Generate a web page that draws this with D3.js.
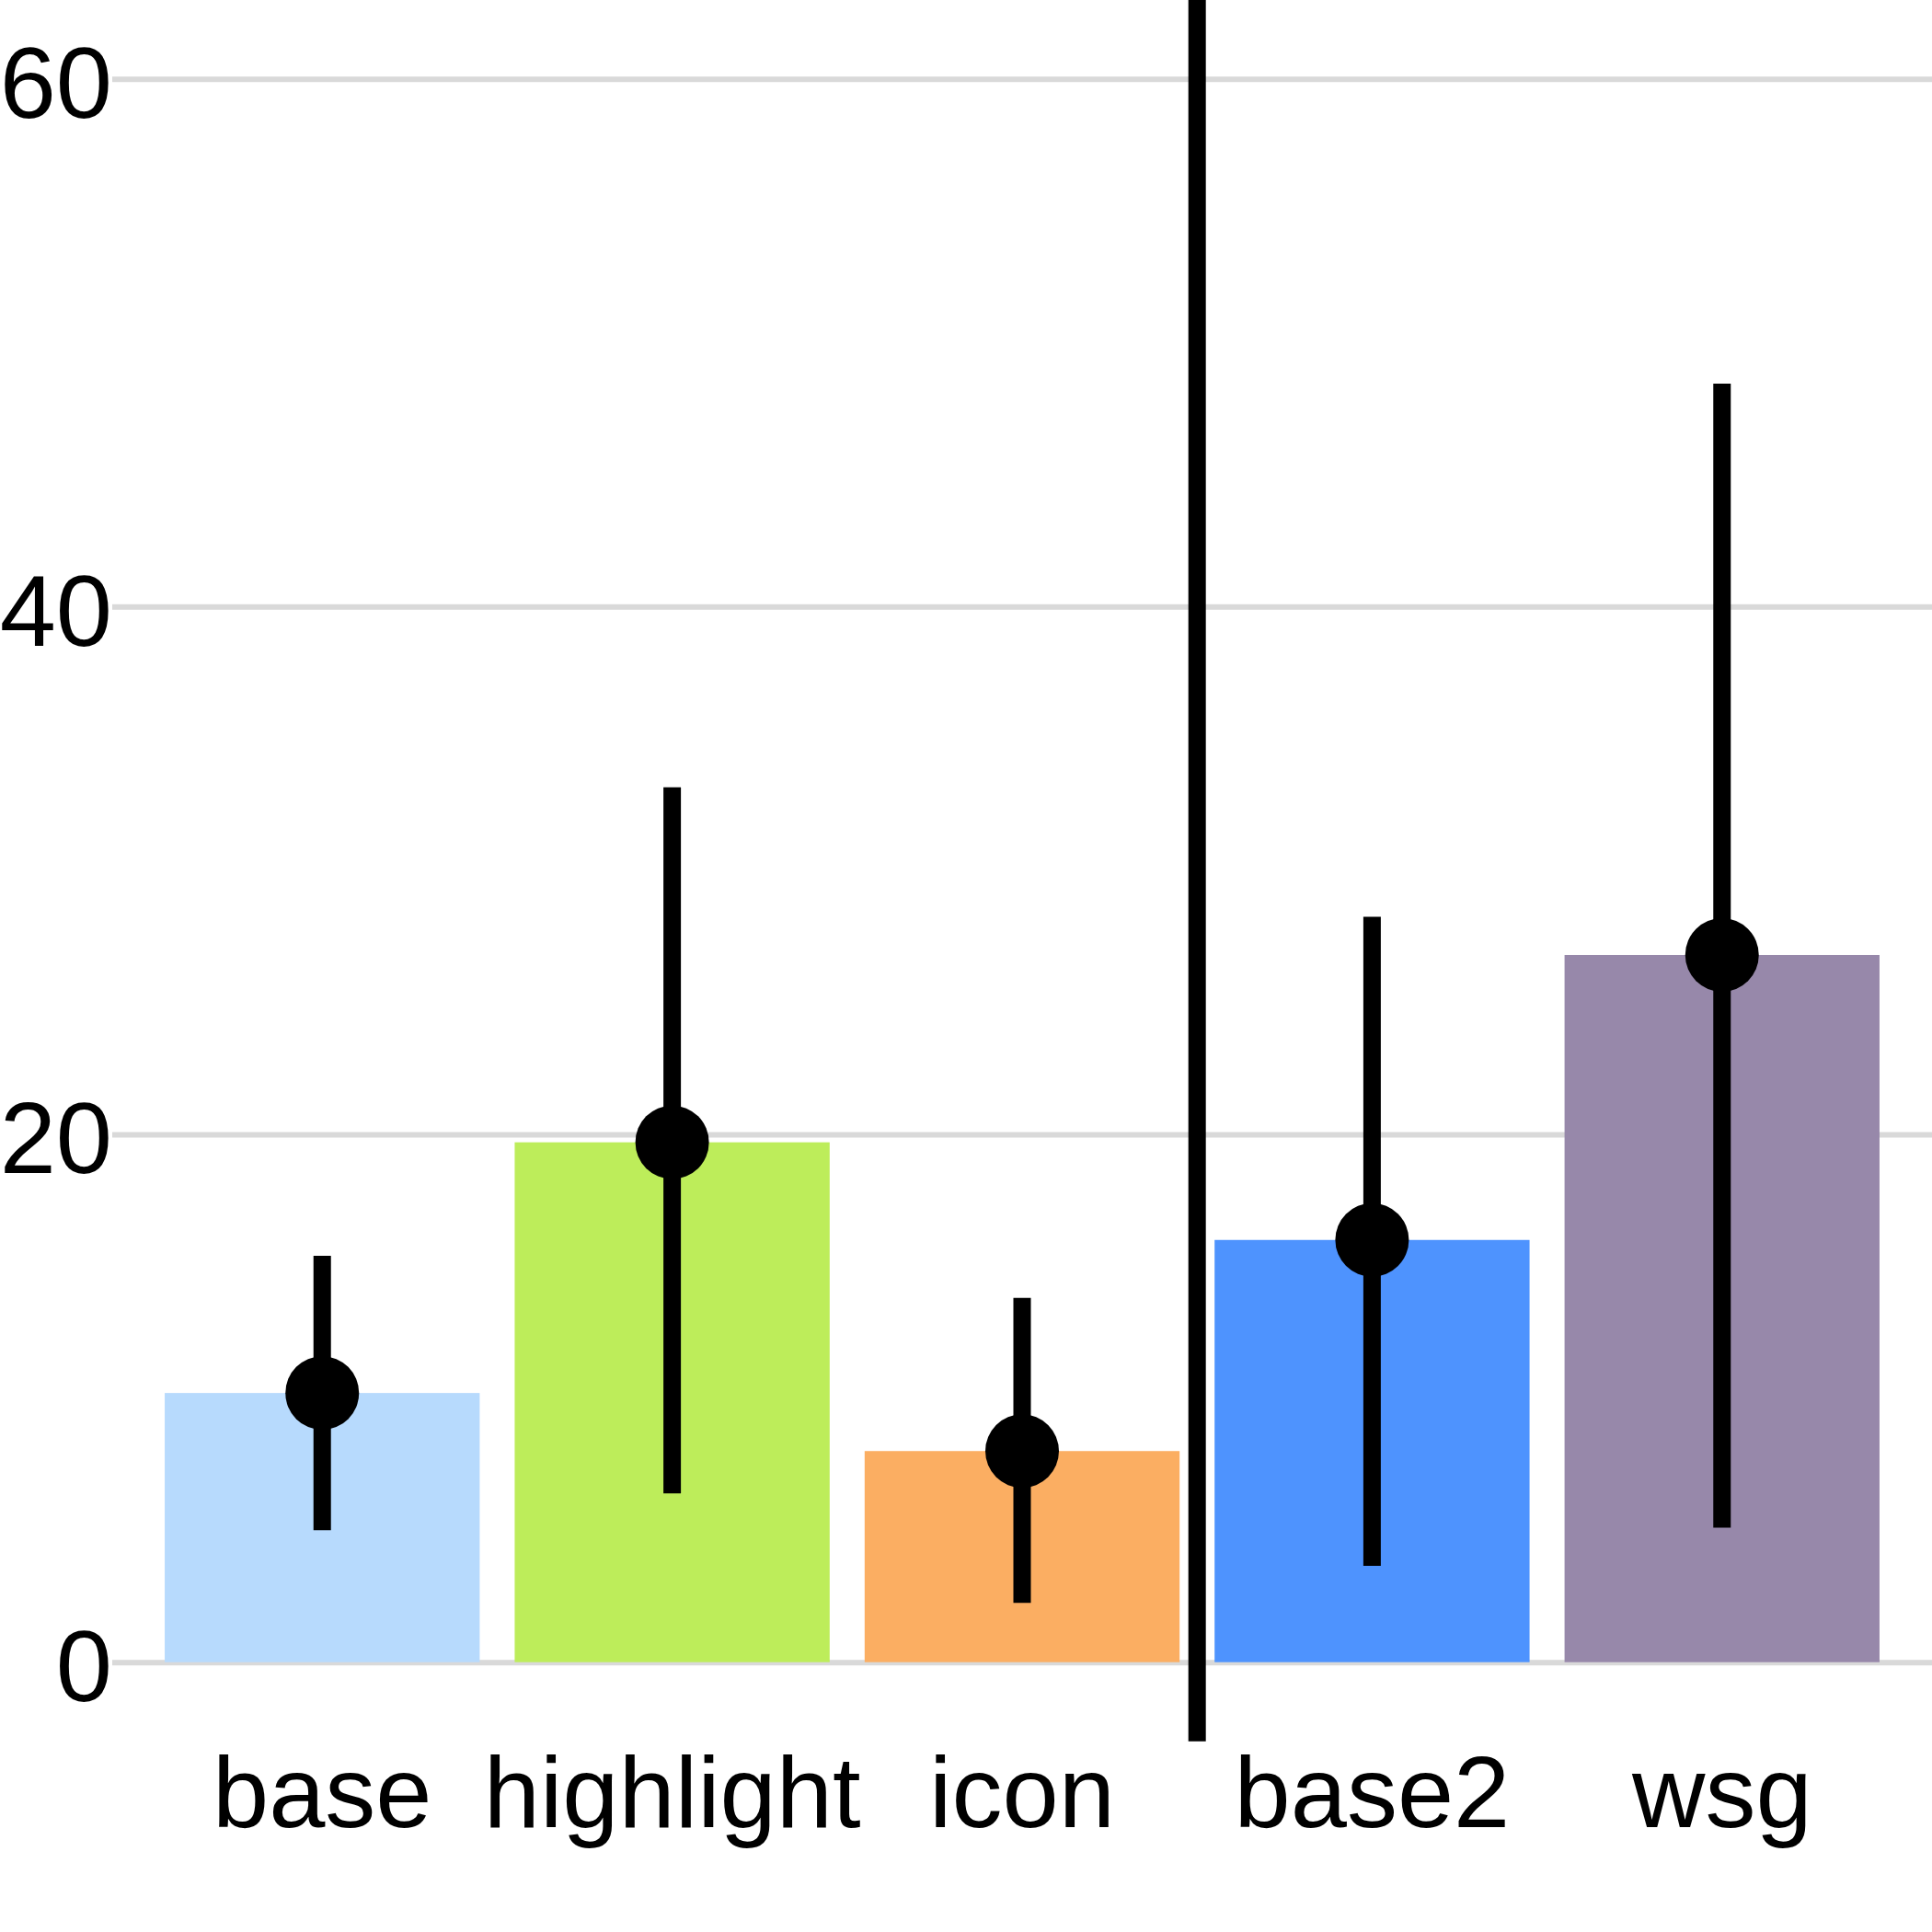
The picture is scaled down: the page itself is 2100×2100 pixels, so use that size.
<!DOCTYPE html>
<html>
<head>
<meta charset="utf-8">
<script src="https://cdn.jsdelivr.net/npm/d3@7"></script>
<style>
  html, body { margin: 0; padding: 0; background: #fff; }
  svg { display: block; }
  .axis text { font-family: "Liberation Sans", Arial, sans-serif; font-size: 110px; fill: #000; }
</style>
</head>
<body>
<svg id="chart"></svg>
<script>
// Data
var categories = ["base", "highlight", "icon", "base2", "wsg"];
var means = [10.2, 19.7, 8.0, 16.0, 26.8];
var upper = [15.4, 33.15, 13.8, 28.25, 48.45];
var lower = [5.0, 6.4, 2.25, 3.65, 5.1];
var colors = ["#b7dafd", "#bded5a", "#fbae62", "#4e93fe", "#9788aa"];
var yTicks = [0, 20, 40, 60];
// separator between "icon" and "base2", running from below zero to past the top
var sepRange = [-3, 70];

var W = 2100, H = 2100;
var left = 122;

var svg = d3.select('#chart')
	.attr('width', W)
	.attr('height', H);

// Scales
var x = d3.scaleBand()
	.domain(categories)
	.range([left, W])
	.paddingInner(0.1)
	.paddingOuter(0.15);

var y = d3.scaleLinear()
	.domain([0, 60])
	.range([1806.7, 85.7]);

// y axis with gridlines
var yAxis = svg.append('g')
	.attr('class', 'axis')
	.attr('transform', 'translate(' + left + ',0)')
	.call(d3.axisLeft(y).tickValues(yTicks).tickSize(-(W - left)).tickPadding(0));
yAxis.select('.domain').remove();
yAxis.selectAll('.tick line')
	.attr('stroke', '#d9d9d9')
	.attr('stroke-width', 6);
yAxis.selectAll('.tick text')
	.attr('dy', '0.38em');

// Bars
svg.selectAll('.bar')
	.data(categories)
	.enter().append('rect')
	.attr('class', 'bar')
	.attr('x', function(d) { return x(d); })
	.attr('width', x.bandwidth())
	.attr('y', function(d, i) { return y(means[i]); })
	.attr('height', function(d, i) { return y(0) - y(means[i]); })
	.attr('fill', function(d, i) { return colors[i]; });

// Error bars
svg.selectAll('.err')
	.data(categories)
	.enter().append('line')
	.attr('class', 'err')
	.attr('x1', function(d) { return x(d) + x.bandwidth() / 2; })
	.attr('x2', function(d) { return x(d) + x.bandwidth() / 2; })
	.attr('y1', function(d, i) { return y(lower[i]); })
	.attr('y2', function(d, i) { return y(upper[i]); })
	.attr('stroke', '#000')
	.attr('stroke-width', 19);

// Points
svg.selectAll('.pt')
	.data(categories)
	.enter().append('circle')
	.attr('class', 'pt')
	.attr('cx', function(d) { return x(d) + x.bandwidth() / 2; })
	.attr('cy', function(d, i) { return y(means[i]); })
	.attr('r', 40)
	.attr('fill', '#000');

// x labels
var xAxis = svg.append('g')
	.attr('class', 'axis')
	.attr('transform', 'translate(0,' + y(0) + ')')
	.call(d3.axisBottom(x).tickSize(0));
xAxis.select('.domain').remove();
xAxis.selectAll('.tick text')
	.attr('y', 179)
	.attr('dy', 0);

// Separator line between groups
var sepX = x('base2') - x.step() * x.paddingInner() / 2;
svg.append('line')
	.attr('x1', sepX)
	.attr('x2', sepX)
	.attr('y1', y(sepRange[0]))
	.attr('y2', y(sepRange[1]))
	.attr('stroke', '#000')
	.attr('stroke-width', 19);
</script>
</body>
</html>
